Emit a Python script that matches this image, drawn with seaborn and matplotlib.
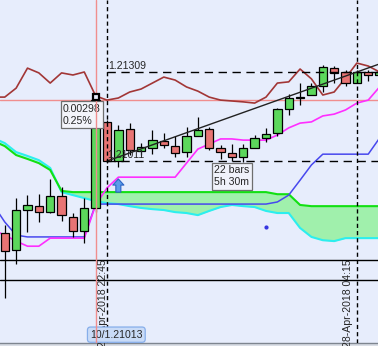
import numpy as np
import pandas as pd
import matplotlib
matplotlib.use("Agg")
import matplotlib.pyplot as plt
import seaborn as sns

# ---------------- data (15-minute EUR/USD bars, bar 9 = 27-Apr-2018 22:45) ----------------
bar_index = list(range(34))
opens = [1.20770, 1.20713, 1.20847, 1.20860, 1.20840, 1.20894, 1.20824, 1.20777, 1.20854, 1.21142,
         1.21011, 1.21118, 1.21045, 1.21055, 1.21078, 1.21061, 1.21041, 1.21095, 1.21118, 1.21055,
         1.21038, 1.21024, 1.21055, 1.21088, 1.21105, 1.21185, 1.21222, 1.21232, 1.21262, 1.21322,
         1.21309, 1.21272, 1.21309, 1.21299]
highs = [1.20797, 1.20887, 1.20897, 1.20900, 1.20951, 1.20924, 1.20837, 1.20887, 1.21225, 1.21148,
         1.21132, 1.21138, 1.21071, 1.21115, 1.21105, 1.21095, 1.21125, 1.21158, 1.21125, 1.21065,
         1.21068, 1.21068, 1.21098, 1.21122, 1.21188, 1.21235, 1.21272, 1.21272, 1.21332, 1.21329,
         1.21316, 1.21316, 1.21316, 1.21316]
lows = [1.20552, 1.20666, 1.20773, 1.20807, 1.20837, 1.20810, 1.20757, 1.20736, 1.20840, 1.21004,
        1.20991, 1.21031, 1.21031, 1.21034, 1.21055, 1.21024, 1.21024, 1.21095, 1.21048, 1.21018,
        1.21011, 1.21008, 1.21055, 1.21075, 1.21095, 1.21165, 1.21199, 1.21232, 1.21242, 1.21272,
        1.21262, 1.21272, 1.21279, 1.21292]
closes = [1.20710, 1.20847, 1.20864, 1.20840, 1.20894, 1.20830, 1.20777, 1.20854, 1.21215, 1.21011,
          1.21115, 1.21048, 1.21058, 1.21081, 1.21065, 1.21038, 1.21095, 1.21115, 1.21055, 1.21041,
          1.21024, 1.21055, 1.21088, 1.21101, 1.21185, 1.21222, 1.21225, 1.21262, 1.21326, 1.21306,
          1.21272, 1.21309, 1.21299, 1.21309]

# indicator lines (one value per bar, starting one bar before the first visible candle)
ind_index = list(range(-1, 34))
upper_brown = [1.21225, 1.21225, 1.21255, 1.21322, 1.21306, 1.21272, 1.21306, 1.21299, 1.21309, 1.21229,
               1.21215, 1.21222, 1.21242, 1.21252, 1.21272, 1.21292, 1.21282, 1.21259, 1.21245, 1.21225,
               1.21215, 1.21212, 1.21209, 1.21205, 1.21225, 1.21272, 1.21276, 1.21319, 1.21286, 1.21232,
               1.21242, 1.21289, 1.21339, 1.21329, 1.21309]
kijun_magenta = [1.20780, 1.20763, 1.20743, 1.20726, 1.20726, 1.20753, 1.20753, 1.20753, 1.20753, 1.20864,
                 1.20921, 1.20957, 1.20957, 1.20957, 1.20957, 1.20957, 1.20957, 1.21004, 1.21051, 1.21068,
                 1.21085, 1.21085, 1.21081, 1.21081, 1.21081, 1.21098, 1.21122, 1.21138, 1.21142, 1.21162,
                 1.21168, 1.21182, 1.21205, 1.21215, 1.21259]
tenkan_blue = [1.20864, 1.20807, 1.20763, 1.20757, 1.20757, 1.20757, 1.20757, 1.20757, 1.20757, 1.20867,
               1.20867, 1.20867, 1.20867, 1.20867, 1.20867, 1.20867, 1.20867, 1.20867, 1.20867, 1.20867,
               1.20867, 1.20867, 1.20867, 1.20867, 1.20867, 1.20874, 1.20897, 1.20947, 1.20998, 1.21034,
               1.21034, 1.21034, 1.21034, 1.21034, 1.21088]
span_a_green = [1.21078, 1.21061, 1.21031, 1.21018, 1.21004, 1.20981, 1.20911, 1.20907, 1.20907, 1.20907,
                1.20907, 1.20907, 1.20907, 1.20907, 1.20907, 1.20907, 1.20907, 1.20907, 1.20907, 1.20907,
                1.20907, 1.20907, 1.20907, 1.20907, 1.20907, 1.20900, 1.20900, 1.20864, 1.20860, 1.20860,
                1.20860, 1.20860, 1.20860, 1.20860, 1.20860]
span_b_cyan = [1.21088, 1.21071, 1.21041, 1.21028, 1.21014, 1.20988, 1.20907, 1.20897, 1.20887, 1.20877,
               1.20870, 1.20867, 1.20860, 1.20854, 1.20850, 1.20847, 1.20840, 1.20837, 1.20830, 1.20844,
               1.20857, 1.20864, 1.20860, 1.20857, 1.20844, 1.20837, 1.20837, 1.20787, 1.20757, 1.20746,
               1.20743, 1.20753, 1.20753, 1.20753, 1.20753]

levels = [1.20680, 1.20613]                 # horizontal black lines
measure_start = (9, 1.21011)                # bar, price
measure_end = (31, 1.21309)
measure_texts = ["0.00298\n0.25%", "22 bars\n5h 30m"]
date_labels = ["27-Apr-2018 22:45", "28-Apr-2018 04:15"]
cursor_bar, cursor_price, cursor_high = 8, 1.21215, 1.21225
cursor_label = "10/1.21013"
buy_arrow = (10, 1.20951)
signal_dot = (23, 1.20790)

# ---------------- styling ----------------
BG = "#E7EDFC"
sns.set_style("white", {"axes.facecolor": BG, "figure.facecolor": "#DADEE6"})
plt.rcParams["font.family"] = ["Liberation Sans", "DejaVu Sans"]
FS = 7.6

fig = plt.figure(figsize=(3.78, 3.46), dpi=100)
ax = fig.add_axes([0, 3 / 346, 1, 343 / 346])
ax.set_xlim(-0.42, 32.86)
ax.set_ylim(1.20402, 1.21550)
ax.set_xticks([])
ax.set_yticks([])
for s in ["top", "left", "right"]:
    ax.spines[s].set_visible(False)
ax.spines["bottom"].set_color("#7E858F")
ax.spines["bottom"].set_linewidth(1.0)

ind = pd.DataFrame({"bar": ind_index, "brown": upper_brown, "kijun": kijun_magenta,
                    "tenkan": tenkan_blue, "span_a": span_a_green, "span_b": span_b_cyan})

# cloud
a = ind["span_a"].to_numpy()
b = ind["span_b"].to_numpy()
xi = ind["bar"].to_numpy()
ax.fill_between(xi, a, b, where=a >= b, interpolate=True, color="#A0F0AC", lw=0, zorder=1)
ax.fill_between(xi, a, b, where=a < b, interpolate=True, color="#B2F2EE", lw=0, zorder=1)
sns.lineplot(data=ind, x="bar", y="span_b", color="#2CEEEE", lw=1.5, ax=ax, zorder=2)
sns.lineplot(data=ind, x="bar", y="span_a", color="#12E012", lw=1.5, ax=ax, zorder=2)
sns.lineplot(data=ind, x="bar", y="tenkan", color="#4848EE", lw=1.1, ax=ax, zorder=3)
sns.lineplot(data=ind, x="bar", y="kijun", color="#FF2EFF", lw=1.2, ax=ax, zorder=3)
sns.lineplot(data=ind, x="bar", y="brown", color="#A23636", lw=1.2, ax=ax, zorder=3)

for lv in levels:
    ax.axhline(lv, color="black", lw=1.0, zorder=3)

# candles
o = np.array(opens); c = np.array(closes)
up = c >= o
cols = np.where(up, "#5CD85C", "#E87474")
ax.vlines(bar_index, lows, highs, color="black", lw=0.9, zorder=4)
ax.bar(bar_index, np.abs(c - o), bottom=np.minimum(o, c), width=0.74, color=cols,
       edgecolor="black", linewidth=0.9, zorder=5)

# measurement tool
(x0, p0), (x1, p1) = measure_start, measure_end
slope = (p1 - p0) / (x1 - x0)
xt = np.array([x0, bar_index[-1] + 1])
ax.plot(xt, p0 + slope * (xt - x0), color="#222222", lw=1.0, zorder=6)
ax.hlines([p1, p0], x0, ax.get_xlim()[1], colors="black", lw=1.0,
          linestyles=(0, (6, 4)), zorder=6)
for xv in (x0, x1):
    ax.axvline(xv, color="black", lw=1.0, ls=(0, (3, 2.2)), zorder=6)

ax.annotate(f"{p1:.5f}", xy=(x0, p1), xytext=(1, 1), textcoords="offset points",
            ha="left", va="bottom", fontsize=FS, zorder=7)
ax.annotate(f"{p0:.5f}", xy=(x0, p0), xytext=(0, 0.5), textcoords="offset points",
            ha="left", va="bottom", fontsize=FS, zorder=7)
ax.annotate(measure_texts[0], xy=(cursor_bar, cursor_price), xytext=(-23.5, -2.5),
            textcoords="offset points", ha="left", va="top", fontsize=FS, linespacing=1.25,
            zorder=8, bbox=dict(boxstyle="square,pad=0.22", fc="#F3F4FA", ec="#6E6E6E", lw=0.9))
ax.annotate(measure_texts[1], xy=((x0 + x1) / 2, p0), xytext=(0, -3.2),
            textcoords="offset points", ha="center", va="top", fontsize=FS, linespacing=1.25,
            zorder=8, bbox=dict(boxstyle="square,pad=0.22", fc="#F0F2FA", ec="#6E6E6E", lw=0.9))

# signals
ax.annotate("", xy=buy_arrow, xytext=(0, -9.5), textcoords="offset points",
            arrowprops=dict(arrowstyle="simple,head_width=1.0,head_length=0.55,tail_width=0.45",
                            mutation_scale=8, fc="#5C9CEA", ec="#2A63C4", lw=0.8,
                            shrinkA=0, shrinkB=0), zorder=7)
ax.plot([signal_dot[0]], [signal_dot[1]], "o", ms=2, color="#3434E0", zorder=7)

# date labels on the x axis
for xv, lab, dx in zip((x0, x1), date_labels, (-3, -6.5)):
    ax.annotate(lab, xy=(xv, 0), xycoords=("data", "figure fraction"), xytext=(dx, -1),
                textcoords="offset points", rotation=90, ha="center", va="bottom",
                fontsize=FS, zorder=7, annotation_clip=False)

# cursor label and crosshair
ax.annotate(cursor_label, xy=(cursor_bar, 0), xycoords=("data", "axes fraction"),
            xytext=(-4, 6), textcoords="offset points", ha="left", va="center", fontsize=FS,
            zorder=8, bbox=dict(boxstyle="round,pad=0.25,rounding_size=0.3", fc="#C9DBF7",
                                ec="#86AEEA", lw=0.9))
ax.axvline(cursor_bar, color="#F08E8E", lw=1.0, zorder=9)
ax.axhline(cursor_price, color="#F08E8E", lw=1.0, zorder=2.5)
ax.plot([cursor_bar], [cursor_high], "s", ms=5, mfc=BG, mec="black", mew=1.6, zorder=10)

fig.savefig("out.png", dpi=100, facecolor=fig.get_facecolor())
